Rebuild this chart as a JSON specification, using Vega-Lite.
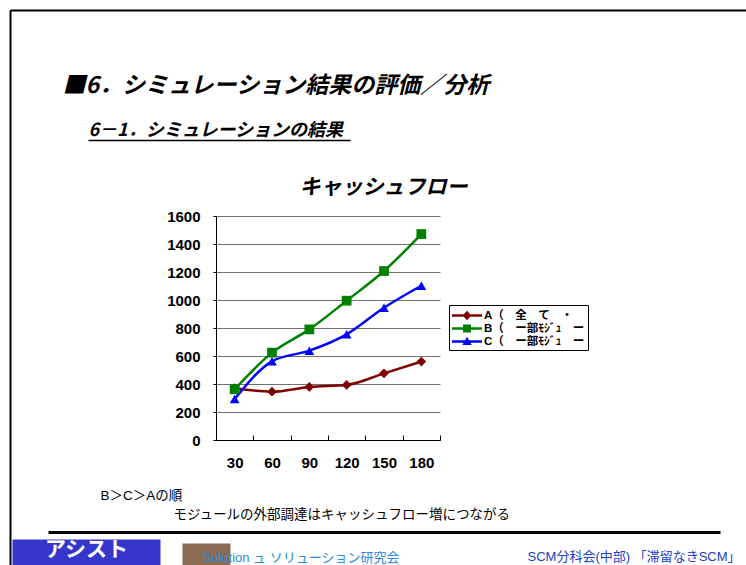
{
  "$schema": "https://vega.github.io/schema/vega-lite/v6.json",
  "width": 224,
  "height": 224,
  "autosize": {"type": "none"},
  "padding": {"left": 216, "top": 216, "right": 306, "bottom": 125},
  "background": "white",
  "config": {
    "view": {"stroke": null},
    "font": "Liberation Sans, Noto Sans CJK JP",
    "axis": {"titleFontWeight": "normal", "titleColor": "black", "titlePadding": 0}
  },
  "datasets": {
    "cashflow": [
      {"day": 30, "series": "A（　全　て　・", "cf": 370},
      {"day": 60, "series": "A（　全　て　・", "cf": 345},
      {"day": 90, "series": "A（　全　て　・", "cf": 379},
      {"day": 120, "series": "A（　全　て　・", "cf": 393},
      {"day": 150, "series": "A（　全　て　・", "cf": 476},
      {"day": 180, "series": "A（　全　て　・", "cf": 560},
      {"day": 30, "series": "B（　ー部ﾓｼﾞｭ　ー", "cf": 362},
      {"day": 60, "series": "B（　ー部ﾓｼﾞｭ　ー", "cf": 624},
      {"day": 90, "series": "B（　ー部ﾓｼﾞｭ　ー", "cf": 790},
      {"day": 120, "series": "B（　ー部ﾓｼﾞｭ　ー", "cf": 995},
      {"day": 150, "series": "B（　ー部ﾓｼﾞｭ　ー", "cf": 1207},
      {"day": 180, "series": "B（　ー部ﾓｼﾞｭ　ー", "cf": 1471},
      {"day": 30, "series": "C（　ー部ﾓｼﾞｭ　ー", "cf": 293},
      {"day": 60, "series": "C（　ー部ﾓｼﾞｭ　ー", "cf": 562},
      {"day": 90, "series": "C（　ー部ﾓｼﾞｭ　ー", "cf": 638},
      {"day": 120, "series": "C（　ー部ﾓｼﾞｭ　ー", "cf": 755},
      {"day": 150, "series": "C（　ー部ﾓｼﾞｭ　ー", "cf": 945},
      {"day": 180, "series": "C（　ー部ﾓｼﾞｭ　ー", "cf": 1102}
    ],
    "none": []
  },
  "layer": [
    {
      "data": {"name": "cashflow"},
      "mark": {"type": "line", "strokeWidth": 2.5, "interpolate": "monotone"},
      "encoding": {
        "x": {
          "field": "day", "type": "quantitative",
          "scale": {"domain": [15, 195], "nice": false},
          "axis": {
            "orient": "bottom", "values": [15, 45, 75, 105, 135, 165, 195],
            "labels": false, "grid": false, "ticks": true, "tickSize": -5,
            "tickColor": "black", "domainColor": "black", "title": null
          }
        },
        "y": {
          "field": "cf", "type": "quantitative",
          "scale": {"domain": [0, 1600], "nice": false},
          "axis": {
            "orient": "left", "values": [0, 200, 400, 600, 800, 1000, 1200, 1400, 1600],
            "format": "d",
            "grid": true, "gridColor": "#707070", "gridOpacity": 1,
            "domainColor": "black", "tickColor": "black", "tickSize": 3,
            "labelFont": "Liberation Sans", "labelFontSize": 15, "labelFontWeight": "bold",
            "labelColor": "black", "labelPadding": 13, "title": null
          }
        },
        "color": {
          "field": "series", "type": "nominal",
          "scale": {"range": ["#800000", "#008000", "#0000ff"]},
          "legend": null
        }
      }
    },
    {
      "data": {"name": "cashflow"},
      "mark": {"type": "point", "filled": true, "opacity": 1, "size": 95},
      "encoding": {
        "x": {
          "field": "day", "type": "quantitative",
          "scale": {"domain": [15, 195], "nice": false},
          "axis": {
            "orient": "bottom", "values": [30, 60, 90, 120, 150, 180],
            "domain": false, "ticks": false, "grid": false,
            "labelFont": "Liberation Sans", "labelFontSize": 15, "labelFontWeight": "bold",
            "labelColor": "black", "labelPadding": 15,
            "title": "B＞C＞Aの順", "titleX": -116, "titleY": 55,
            "titleAlign": "left", "titleBaseline": "middle", "titleAngle": 0,
            "titleFontSize": 13.5
          }
        },
        "y": {
          "field": "cf", "type": "quantitative",
          "scale": {"domain": [0, 1600], "nice": false},
          "axis": {
            "orient": "right", "domain": false, "ticks": false, "labels": false, "grid": false,
            "title": "モジュールの外部調達はキャッシュフロー増につながる",
            "titleX": -267, "titleY": 298, "titleAngle": 0,
            "titleAlign": "left", "titleBaseline": "middle", "titleFontSize": 13.5
          }
        },
        "color": {
          "field": "series", "type": "nominal",
          "scale": {"range": ["#800000", "#008000", "#0000ff"]},
          "legend": null
        },
        "shape": {
          "field": "series", "type": "nominal",
          "scale": {"range": ["diamond", "square", "triangle-up"]},
          "legend": null
        }
      }
    },
    {
      "data": {"name": "none"},
      "mark": {"type": "point", "filled": true, "opacity": 1},
      "encoding": {
        "x": {
          "field": "day", "type": "quantitative",
          "scale": {"domain": [15, 195], "nice": false},
          "axis": {
            "orient": "top", "domain": false, "ticks": false, "labels": false, "grid": false,
            "title": "キャッシュフロー", "titleX": 167, "titleY": -29,
            "titleAlign": "center", "titleBaseline": "middle",
            "titleFontSize": 21, "titleFontWeight": "bold", "titleFontStyle": "italic",
            "titleFont": "Noto Sans CJK JP"
          }
        },
        "y": {
          "field": "cf", "type": "quantitative",
          "scale": {"domain": [0, 1600], "nice": false},
          "axis": {
            "orient": "left", "domain": false, "ticks": false, "labels": false, "grid": false,
            "title": "■6．シミュレーション結果の評価／分析",
            "titleX": -154, "titleY": -131, "titleAngle": 0,
            "titleAlign": "left", "titleBaseline": "middle",
            "titleFontSize": 23, "titleFontWeight": "bold", "titleFontStyle": "italic",
            "titleFont": "Noto Sans CJK JP"
          }
        },
        "color": {
          "field": "series", "type": "nominal",
          "scale": {
            "domain": ["A（　全　て　・", "B（　ー部ﾓｼﾞｭ　ー", "C（　ー部ﾓｼﾞｭ　ー"],
            "range": ["#800000", "#008000", "#0000ff"]
          },
          "legend": {
            "orient": "none", "legendX": 233, "legendY": 89, "title": null,
            "strokeColor": "black", "fillColor": "white", "padding": 3,
            "symbolSize": 225, "symbolStrokeWidth": 0, "symbolOpacity": 1,
            "labelFont": "Liberation Sans, Noto Sans CJK JP", "labelFontSize": 11.5,
            "labelFontWeight": "bold",
            "labelColor": "black", "labelOffset": 17, "rowPadding": 0
          }
        },
        "shape": {
          "field": "series", "type": "nominal",
          "scale": {
            "domain": ["A（　全　て　・", "B（　ー部ﾓｼﾞｭ　ー", "C（　ー部ﾓｼﾞｭ　ー"],
            "range": [
              "M-1,-0.17H3V0.17H-1Z M1,-0.62L1.58,0L1,0.62L0.42,0Z",
              "M-1,-0.17H3V0.17H-1Z M0.47,-0.53H1.53V0.53H0.47Z",
              "M-1,-0.17H3V0.17H-1Z M1,-0.65L1.62,0.45H0.38Z"
            ]
          },
          "legend": {
            "orient": "none", "legendX": 233, "legendY": 89, "title": null,
            "strokeColor": "black", "fillColor": "white", "padding": 3,
            "symbolSize": 225, "symbolStrokeWidth": 0, "symbolOpacity": 1,
            "labelFont": "Liberation Sans, Noto Sans CJK JP", "labelFontSize": 11.5,
            "labelFontWeight": "bold",
            "labelColor": "black", "labelOffset": 17, "rowPadding": 0
          }
        }
      }
    },
    {
      "data": {"name": "none"},
      "mark": {"type": "point"},
      "encoding": {
        "x": {
          "field": "k", "type": "quantitative",
          "scale": {"domain": [0, 1], "range": [-168, 504]},
          "axis": {
            "orient": "bottom", "offset": 92, "domainWidth": 3, "domainColor": "black",
            "ticks": false, "labels": false, "grid": false,
            "title": "SCM分科会(中部) 「滞留なきSCM」", "titleX": 311, "titleY": 24,
            "titleAlign": "left", "titleBaseline": "middle", "titleFontSize": 13,
            "titleColor": "#2040c8"
          }
        },
        "y": {
          "field": "k", "type": "quantitative",
          "scale": {"domain": [0, 1], "range": [360, -206]},
          "axis": {
            "orient": "left", "offset": 206, "domainWidth": 2, "domainColor": "black",
            "ticks": false, "labels": false, "grid": false, "title": null
          }
        }
      }
    },
    {
      "data": {"name": "none"},
      "mark": {"type": "point"},
      "encoding": {
        "x": {
          "field": "k", "type": "quantitative",
          "scale": {"domain": [0, 1], "range": [-206, 540]},
          "axis": {
            "orient": "top", "offset": 206, "domainWidth": 2, "domainColor": "black",
            "ticks": false, "labels": false, "grid": false, "title": null
          }
        }
      }
    },
    {
      "data": {"name": "none"},
      "mark": {"type": "point"},
      "encoding": {
        "x": {
          "field": "k", "type": "quantitative",
          "scale": {"domain": [0, 1], "range": [-128, 134]},
          "axis": {
            "orient": "top", "offset": 76, "domainWidth": 1.5, "domainColor": "black",
            "ticks": false, "labels": false, "grid": false,
            "title": "6－1．シミュレーションの結果", "titleX": -128, "titleY": -10,
            "titleAlign": "left", "titleBaseline": "middle",
            "titleFontSize": 18, "titleFontWeight": "bold", "titleFontStyle": "italic",
            "titleFont": "Noto Sans CJK JP"
          }
        }
      }
    },
    {
      "data": {"name": "none"},
      "mark": {"type": "point"},
      "encoding": {
        "x": {
          "field": "k", "type": "quantitative",
          "scale": {"domain": [0, 1], "range": [-204, -56]},
          "axis": {
            "orient": "bottom", "offset": 112, "domainWidth": 26, "domainColor": "#3636cc",
            "ticks": false, "labels": false, "grid": false,
            "title": "アシスト", "titleX": -130, "titleY": -3,
            "titleAlign": "center", "titleBaseline": "middle",
            "titleFontSize": 21, "titleFontWeight": "bold", "titleColor": "white",
            "titleFont": "Noto Sans CJK JP"
          }
        }
      }
    },
    {
      "data": {"name": "none"},
      "mark": {"type": "point"},
      "encoding": {
        "x": {
          "field": "k", "type": "quantitative",
          "scale": {"domain": [0, 1], "range": [-34, 14]},
          "axis": {
            "orient": "bottom", "offset": 114, "domainWidth": 22, "domainColor": "#8a6a50",
            "ticks": false, "labels": false, "grid": false,
            "title": "Solution ュ ソリューション研究会", "titleX": -14, "titleY": 3,
            "titleAlign": "left", "titleBaseline": "middle", "titleFontSize": 13,
            "titleColor": "#2a8ae0"
          }
        }
      }
    }
  ],
  "resolve": {
    "scale": {"x": "independent", "y": "independent", "color": "independent", "shape": "independent"},
    "axis": {"x": "independent", "y": "independent"},
    "legend": {"color": "independent", "shape": "independent"}
  }
}
